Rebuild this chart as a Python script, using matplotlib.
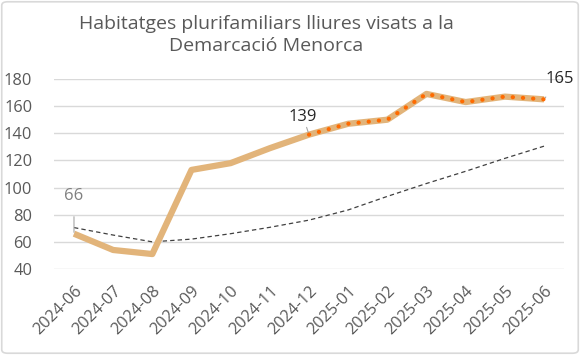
import matplotlib
matplotlib.use("Agg")
import matplotlib.pyplot as plt
from matplotlib.patches import FancyBboxPatch

months = ["2024-06", "2024-07", "2024-08", "2024-09", "2024-10", "2024-11", "2024-12",
          "2025-01", "2025-02", "2025-03", "2025-04", "2025-05", "2025-06"]
values = [66, 54, 51, 113, 118, 129, 139, 147, 150, 169, 163, 167, 165]
trend = [70.5, 65, 60, 62, 66, 70.7, 76, 83.5, 93.5, 103, 112, 121.5, 130.5]
highlight_start = 6  # 2024-12 onwards drawn with orange dots
yticks = [40, 60, 80, 100, 120, 140, 160, 180]
title = "Habitatges plurifamiliars lliures visats a la\nDemarcació Menorca"

plt.rcParams['font.family'] = ['Open Sans', 'DejaVu Sans']

fig = plt.figure(figsize=(5.8, 3.55), dpi=100)
ax = fig.add_axes([0.0938, 0.2423, 0.8779, 0.5352])

x = list(range(len(months)))
ax.set_xlim(-0.5, len(months) - 0.5)
ax.set_ylim(40, 180)
ax.set_yticks(yticks)
ax.yaxis.grid(True, color="#D9D9D9", linewidth=1)
ax.set_axisbelow(True)
for s in ax.spines.values():
    s.set_visible(False)
ax.tick_params(axis='both', length=0, colors="#595959", labelsize=11.8)
ax.tick_params(axis='y', pad=16)
ax.set_xticks(x)
ax.set_xticklabels(months, rotation=45, ha='right', rotation_mode='anchor')
ax.tick_params(axis='x', pad=10)

ax.plot(x, trend, color="#404040", linewidth=0.9, linestyle=(0, (3.5, 2.5)), zorder=2)
ax.plot(x, values, color="#E2B47A", linewidth=4.5, solid_joinstyle='round',
        solid_capstyle='butt', zorder=3)
ax.plot(x[highlight_start:], values[highlight_start:], color="#FF6A00", linewidth=3,
        linestyle=(0, (0.05, 2.4)), dash_capstyle='round', zorder=4)

# data labels
ax.annotate(str(values[0]), xy=(x[0], values[0]), xytext=(0, 27), textcoords='offset points',
            ha='center', va='center', color="#808080", fontsize=12,
            arrowprops=dict(arrowstyle='-', color="#A6A6A6", lw=0.8, shrinkA=7, shrinkB=1))
ax.annotate(str(values[6]), xy=(x[6], values[6]), xytext=(-4.3, 13), textcoords='offset points',
            ha='center', va='center', color="#262626", fontsize=12,
            arrowprops=dict(arrowstyle='-', color="#A6A6A6", lw=0.8, shrinkA=7, shrinkB=1))
ax.annotate(str(values[-1]), xy=(x[-1], values[-1]), xytext=(11.5, 15), textcoords='offset points',
            ha='center', va='center', color="#262626", fontsize=12,
            arrowprops=dict(arrowstyle='-', color="#A6A6A6", lw=0.8, shrinkA=7, shrinkB=1))

fig.text(266 / 580, 1 - 35 / 355, title, ha='center', va='center', fontsize=14,
         color="#595959", linespacing=1.3)

border = FancyBboxPatch((0.003, 0.005), 0.994, 0.99, boxstyle="round,pad=0,rounding_size=0.01",
                        transform=fig.transFigure, fill=False, edgecolor="#D9D9D9", linewidth=1.2)
fig.patches.append(border)

fig.savefig("out.png", dpi=100)
